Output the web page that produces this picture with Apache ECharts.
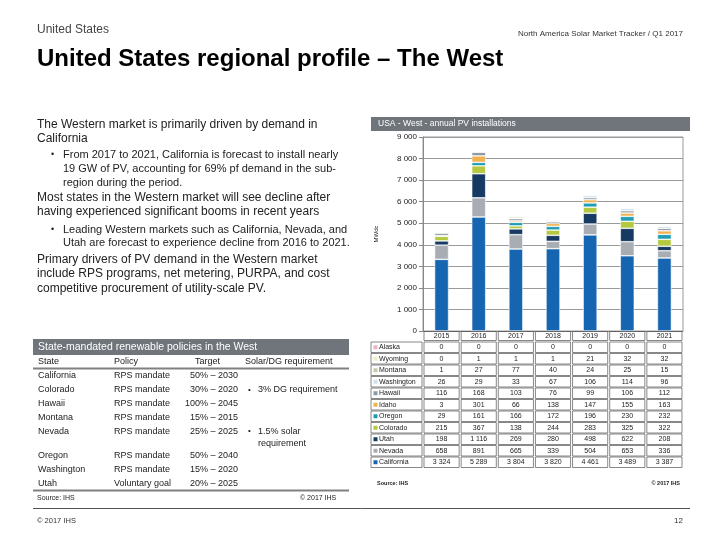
<!DOCTYPE html>
<html><head><meta charset="utf-8">
<script src="https://cdn.jsdelivr.net/npm/echarts@6/dist/echarts.min.js"></script>
<style>html,body{margin:0;padding:0;background:#fff}#c{width:720px;height:540px}</style>
</head><body><div id="c"></div>
<script>
// ---- data ----
const years = ['2015','2016','2017','2018','2019','2020','2021'];
const states = ['California','Nevada','Utah','Colorado','Oregon','Idaho','Hawaii','Washington','Montana','Wyoming','Alaska'];
const california = [3324,5289,3804,3820,4461,3489,3387];
const nevada     = [658,891,665,339,504,653,336];
const utah       = [198,1116,269,280,498,622,208];
const colorado   = [215,367,138,244,283,325,322];
const oregon     = [29,161,166,172,196,230,232];
const idaho      = [3,301,66,138,147,155,163];
const hawaii     = [116,168,103,76,99,106,112];
const washington = [26,29,33,67,106,114,96];
const montana    = [1,27,77,40,24,25,15];
const wyoming    = [0,1,1,1,21,32,32];
const alaska     = [0,0,0,0,0,0,0];
const yMax = 9000, yStep = 1000;

const policyStates = ['California','Colorado','Hawaii','Montana','Nevada','Oregon','Washington','Utah'];
const policies = ['RPS mandate','RPS mandate','RPS mandate','RPS mandate','RPS mandate','RPS mandate','RPS mandate','Voluntary goal'];
const targets = ['50% – 2030','30% – 2020','100% – 2045','15% – 2015','25% – 2025','50% – 2040','15% – 2020','20% – 2025'];
const requirements = ['','3% DG requirement','','','1.5% solar\nrequirement','','',''];

// ---- styling ----
const seriesValues = [california,nevada,utah,colorado,oregon,idaho,hawaii,washington,montana,wyoming,alaska];
const colors = ['#1565b0','#a7adb3','#173a62','#b5c940','#1e9db5','#f2b04e','#8d98a3','#cfe0ec','#c6c8a8','#eef0c8','#e7b3c0'];
const FONT = 'Liberation Sans, Arial, sans-serif';
const fmt = v => String(v).replace(/\B(?=(\d{3})+(?!\d))/g, ' ');

const chart = echarts.init(document.getElementById('c'));
chart.setOption({
  backgroundColor: '#fff',
  animation: false,
  textStyle: {fontFamily: FONT},
  grid: {left: 423, right: 37, top: 137, bottom: 209, show: true, borderColor: '#9a9a9a', borderWidth: 1},
  xAxis: {type: 'category', data: years, axisLabel: {show: false}, axisTick: {show: false},
          axisLine: {lineStyle: {color: '#888'}}},
  yAxis: {type: 'value', min: 0, max: yMax, interval: yStep,
          name: 'MWdc', nameLocation: 'middle', nameGap: 44, nameRotate: 90,
          nameTextStyle: {fontSize: 6, color: '#222', fontFamily: FONT},
          axisLine: {show: true, lineStyle: {color: '#888'}},
          axisTick: {show: true, length: 4, lineStyle: {color: '#888'}},
          axisLabel: {formatter: fmt, fontSize: 8, color: '#222', margin: 6, fontFamily: FONT},
          splitLine: {lineStyle: {color: '#9a9a9a', width: 1}}},
  series: states.map((s, i) => ({
    name: s, type: 'bar', stack: 'total', data: seriesValues[i], barWidth: 14,
    itemStyle: {color: colors[i], borderColor: '#fff', borderWidth: 0.6}
  }))
});

// ---- slide texts and tables ----
const g = [];
function txt(x, y, text, size, opts) {
  opts = opts || {};
  g.push({type: 'text', x: x, y: y, silent: true, z: 10, style: Object.assign({
    text: text, fontSize: size, fontFamily: FONT, fill: opts.fill || '#222',
    fontWeight: opts.bold ? 'bold' : 'normal', align: opts.align || 'left', verticalAlign: 'middle',
    lineHeight: opts.lineHeight
  })});
}
function rect(x, y, w, h, fill, stroke, lw) {
  g.push({type: 'rect', silent: true, z: 5, shape: {x: x, y: y, width: w, height: h},
    style: {fill: fill || 'none', stroke: stroke || null, lineWidth: lw || 0}});
}
function line(x1, y1, x2, y2, color, w) {
  g.push({type: 'line', silent: true, z: 5, shape: {x1: x1, y1: y1, x2: x2, y2: y2}, style: {stroke: color, lineWidth: w}});
}

// header
txt(37, 30, 'United States', 12, {fill: '#444'});
txt(683, 34, 'North America Solar Market Tracker / Q1 2017', 8, {fill: '#333', align: 'right'});
txt(37, 59, 'United States regional profile – The West', 24, {fill: '#000', bold: true});

// left narrative
const P = 12, B = 11;
txt(37, 125, 'The Western market is primarily driven by demand in', P);
txt(37, 139, 'California', P);
txt(51, 155, '•', 9);
txt(63, 155, 'From 2017 to 2021, California is forecast to install nearly', B);
txt(63, 169, '19 GW of PV, accounting for 69% pf demand in the sub-', B);
txt(63, 183, 'region during the period.', B);
txt(37, 198, 'Most states in the Western market will see decline after', P);
txt(37, 212, 'having experienced significant booms in recent years', P);
txt(51, 230, '•', 9);
txt(63, 230, 'Leading Western markets such as California, Nevada, and', B);
txt(63, 243, 'Utah are forecast to experience decline from 2016 to 2021.', B);
txt(37, 260, 'Primary drivers of PV demand in the Western market', P);
txt(37, 274, 'include RPS programs, net metering, PURPA, and cost', P);
txt(37, 289, 'competitive procurement of utility-scale PV.', P);

// policy table
rect(33, 339, 316, 16, '#6f757b');
txt(38, 347.5, 'State-mandated renewable policies in the West', 10.5, {fill: '#fff'});
txt(38, 362, 'State', 9); txt(114, 362, 'Policy', 9); txt(195, 362, 'Target', 9); txt(245, 362, 'Solar/DG requirement', 9);
line(33, 368.5, 349, 368.5, '#808080', 2);
policyStates.forEach((s, i) => {
  const y = 376 + i * 13.8 + (i > 4 ? 10.5 : 0);
  txt(38, y, s, 9);
  txt(114, y, policies[i], 9);
  txt(238, y, targets[i], 9, {align: 'right'});
  if (requirements[i]) {
    txt(248, y, '•', 8);
    const parts = requirements[i].split('\n');
    parts.forEach((p, k) => txt(258, y + k * 12, p, 9));
  }
});
line(33, 490.5, 349, 490.5, '#808080', 2);
txt(37, 498, 'Source: IHS', 7);
txt(300, 498, '© 2017 IHS', 7);

// chart header
rect(371, 117, 319, 14, '#6f757b');
txt(378, 124, 'USA - West - annual PV installations', 8.5, {fill: '#fff'});

// data table under chart
const xs = years.map(y => chart.convertToPixel({xAxisIndex: 0}, y));
const y0 = chart.convertToPixel({yAxisIndex: 0}, 0);
const cw = (xs[1] - xs[0]) - 2;
years.forEach((yr, j) => {
  rect(xs[j] - cw / 2, y0 + 0.5, cw, 9, null, '#555', 0.7);
  txt(xs[j], y0 + 5, yr, 7, {align: 'center'});
});
const rowOrder = states.map((s, i) => i).reverse();
const rowH = 11.5;
rowOrder.forEach((si, r) => {
  const top = y0 + 11 + r * rowH;
  const cy = top + 5.25;
  rect(371, top, 51, 10.5, null, '#555', 0.7);
  rect(373.5, cy - 2, 4, 4, colors[si]);
  txt(379, cy, states[si], 7);
  years.forEach((yr, j) => {
    rect(xs[j] - cw / 2, top, cw, 10.5, null, '#555', 0.7);
    txt(xs[j], cy, fmt(seriesValues[si][j]), 7, {align: 'center'});
  });
});
txt(377, 483, 'Source: IHS', 5.5, {bold: true});
txt(680, 483, '© 2017 IHS', 5.5, {bold: true, align: 'right'});

// footer
line(33, 508.5, 690, 508.5, '#555', 1);
txt(37, 521, '© 2017 IHS', 7.5, {fill: '#333'});
txt(683, 521, '12', 8, {fill: '#333', align: 'right'});

chart.setOption({graphic: g});
</script></body></html>
